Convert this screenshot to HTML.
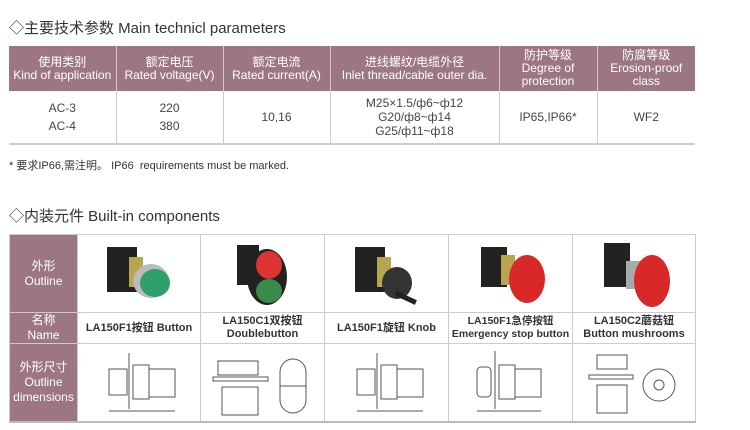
<!DOCTYPE html><html><head><style>
body{margin:0;width:750px;height:430px;background:#fff;font-family:"Liberation Sans","Noto Sans CJK SC",sans-serif;color:#333;position:relative;overflow:hidden}
.t{position:absolute;font-size:15px;color:#333}
table{position:absolute;border-collapse:collapse}
.p td{text-align:center;font-size:12px;line-height:13px;border-left:1px solid #ccc;padding:0}
.p td:first-child{border-left:none}
.h td{background:#9c7781;color:#fff;height:45px}
.b td{height:52px;color:#444;border-bottom:2px solid #ccc}
.b td.d{line-height:18px}
.c td{border:1px solid #ccc;text-align:center;font-size:11px;line-height:13px;color:#333;font-weight:bold;padding:0;overflow:hidden}
.c tr:last-child td{border-bottom:2px solid #bbb}
.c td.l{background:#9c7781;color:#fff;font-size:12px;font-weight:normal;line-height:15px;border-color:#ccc}
svg{display:block;margin:auto}
</style></head><body>
<div class="t" style="left:9px;top:17px">◇主要技术参数 Main technicl parameters</div>
<table class="p" style="left:9px;top:46px;width:686px">
<colgroup><col style="width:107px"><col style="width:107px"><col style="width:107px"><col style="width:169px"><col style="width:98px"><col style="width:98px"></colgroup>
<tr class="h"><td>使用类别<br>Kind of application</td><td>额定电压<br>Rated voltage(V)</td><td>额定电流<br>Rated current(A)</td><td>进线螺纹/电缆外径<br>Inlet thread/cable outer dia.</td><td>防护等级<br>Degree of<br>protection</td><td>防腐等级<br>Erosion-proof<br>class</td></tr>
<tr class="b"><td class="d">AC-3<br>AC-4</td><td class="d">220<br>380</td><td>10,16</td><td style="line-height:14px">M25×1.5/ф6~ф12<br>G20/ф8~ф14<br>G25/ф11~ф18</td><td>IP65,IP66*</td><td>WF2</td></tr>
</table>
<div style="position:absolute;left:9px;top:157px;font-size:11px;color:#333">* 要求IP66,需注明。 IP66 &nbsp;requirements must be marked.</div>
<div class="t" style="left:9px;top:205px">◇内装元件 Built-in components</div>
<table class="c" style="left:9px;top:234px;width:686px;table-layout:fixed">
<colgroup><col style="width:68px"><col style="width:123px"><col style="width:124px"><col style="width:124px"><col style="width:124px"><col style="width:123px"></colgroup>
<tr style="height:78px"><td class="l">外形<br>Outline</td>
<td><svg width="80" height="70"><rect x="8" y="8" width="30" height="45" fill="#222"/><rect x="30" y="18" width="14" height="30" fill="#b9a450"/><ellipse cx="52" cy="42" rx="18" ry="17" fill="#bbb"/><ellipse cx="56" cy="44" rx="15" ry="14" fill="#2e9e6a"/></svg></td>
<td><svg width="80" height="70"><rect x="14" y="6" width="22" height="40" fill="#222"/><ellipse cx="44" cy="38" rx="20" ry="28" fill="#222"/><ellipse cx="46" cy="26" rx="13" ry="14" fill="#d33"/><ellipse cx="46" cy="52" rx="13" ry="12" fill="#3a8a4a"/></svg></td>
<td><svg width="80" height="70"><rect x="8" y="8" width="30" height="45" fill="#222"/><rect x="30" y="18" width="14" height="30" fill="#b9a450"/><ellipse cx="50" cy="44" rx="15" ry="16" fill="#333"/><rect x="50" y="52" width="22" height="5" fill="#222" transform="rotate(25 50 52)"/></svg></td>
<td><svg width="80" height="70"><rect x="10" y="8" width="26" height="40" fill="#222"/><rect x="30" y="16" width="14" height="30" fill="#b9a450"/><ellipse cx="56" cy="40" rx="18" ry="24" fill="#d92828"/></svg></td>
<td><svg width="80" height="70"><rect x="10" y="4" width="26" height="44" fill="#222"/><rect x="32" y="22" width="16" height="28" fill="#aaa"/><ellipse cx="58" cy="42" rx="18" ry="26" fill="#d92828"/></svg></td></tr>
<tr style="height:28px"><td class="l">名称<br>Name</td><td>LA150F1按钮 Button</td><td>LA150C1双按钮<br>Doublebutton</td><td>LA150F1旋钮 Knob</td><td style="font-size:10.5px;white-space:nowrap">LA150F1急停按钮<br>Emergency stop button</td><td>LA150C2蘑菇钮<br>Button mushrooms</td></tr>
<tr style="height:78px"><td class="l">外形尺寸<br>Outline<br>dimensions</td>
<td><svg width="100" height="70" fill="none" stroke="#555"><rect x="20" y="22" width="18" height="26"/><line x1="40" y1="6" x2="40" y2="62"/><rect x="44" y="18" width="16" height="34"/><rect x="60" y="22" width="26" height="28"/><line x1="20" y1="64" x2="86" y2="64"/></svg></td>
<td><svg width="110" height="70" fill="none" stroke="#555"><rect x="10" y="14" width="40" height="14"/><rect x="5" y="30" width="55" height="4"/><rect x="14" y="40" width="36" height="28"/><rect x="72" y="12" width="26" height="54" rx="13"/><line x1="72" y1="39" x2="98" y2="39"/></svg></td>
<td><svg width="100" height="70" fill="none" stroke="#555"><rect x="20" y="22" width="18" height="26"/><line x1="40" y1="6" x2="40" y2="62"/><rect x="44" y="18" width="16" height="34"/><rect x="60" y="22" width="26" height="28"/><line x1="20" y1="64" x2="86" y2="64"/></svg></td>
<td><svg width="100" height="70" fill="none" stroke="#555"><rect x="16" y="20" width="14" height="30" rx="4"/><line x1="34" y1="4" x2="34" y2="62"/><rect x="38" y="18" width="16" height="34"/><rect x="54" y="22" width="26" height="28"/><line x1="16" y1="64" x2="80" y2="64"/></svg></td>
<td><svg width="110" height="70" fill="none" stroke="#555"><rect x="18" y="8" width="30" height="14"/><rect x="10" y="28" width="44" height="4"/><rect x="18" y="38" width="30" height="28"/><circle cx="80" cy="38" r="16"/><circle cx="80" cy="38" r="5"/></svg></td></tr>
</table>
</body></html>
